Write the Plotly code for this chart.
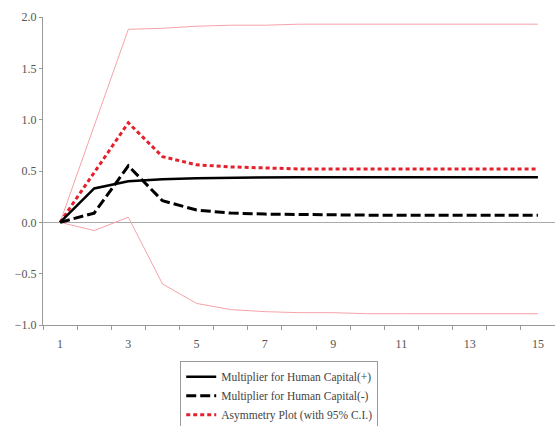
import plotly.graph_objects as go

periods = list(range(1, 16))
pos_mult = [0, 0.33, 0.40, 0.42, 0.43, 0.435, 0.44, 0.44, 0.44, 0.44, 0.44, 0.44, 0.44, 0.44, 0.44]
neg_mult = [0, 0.09, 0.55, 0.21, 0.12, 0.09, 0.08, 0.075, 0.07, 0.07, 0.07, 0.07, 0.07, 0.07, 0.07]
asym = [0, 0.48, 0.97, 0.64, 0.56, 0.54, 0.53, 0.52, 0.52, 0.52, 0.52, 0.52, 0.52, 0.52, 0.52]
upper_ci = [0, 0.94, 1.88, 1.89, 1.91, 1.92, 1.92, 1.93, 1.93, 1.93, 1.93, 1.93, 1.93, 1.93, 1.93]
lower_ci = [0, -0.08, 0.05, -0.60, -0.79, -0.85, -0.87, -0.88, -0.88, -0.89, -0.89, -0.89, -0.89, -0.89, -0.89]
x_labels = [1, 3, 5, 7, 9, 11, 13, 15]
y_ticks = [-1.0, -0.5, 0.0, 0.5, 1.0, 1.5, 2.0]

serif = "Liberation Serif, Times New Roman, Times, serif"

fig = go.Figure()
fig.add_trace(go.Scatter(x=periods, y=upper_ci, mode="lines", showlegend=False,
                         line=dict(color="#f5a3aa", width=1)))
fig.add_trace(go.Scatter(x=periods, y=lower_ci, mode="lines", showlegend=False,
                         line=dict(color="#f5a3aa", width=1)))
fig.add_trace(go.Scatter(x=periods, y=asym, mode="lines", name="Asymmetry Plot (with 95% C.I.)",
                         line=dict(color="#e3202c", width=3, dash="4px,3px")))
fig.add_trace(go.Scatter(x=periods, y=neg_mult, mode="lines", name="Multiplier for Human Capital(-)",
                         line=dict(color="black", width=3, dash="10px,4px")))
fig.add_trace(go.Scatter(x=periods, y=pos_mult, mode="lines", name="Multiplier for Human Capital(+)",
                         line=dict(color="black", width=2.5)))

fig.update_layout(
    width=555, height=426,
    margin=dict(l=43, r=0, t=17, b=101, autoexpand=False),
    paper_bgcolor="white", plot_bgcolor="white",
    font=dict(family=serif, size=12, color="#555"),
    legend=dict(x=0.268, y=-0.118, xanchor="left", yanchor="top",
                bordercolor="#999", borderwidth=1, traceorder="reversed",
                font=dict(family=serif, size=11.5, color="#444"), tracegroupgap=0),
    xaxis=dict(range=[0.5, 15.5], tickvals=x_labels, ticks="", showgrid=False,
               showline=True, linecolor="#999", linewidth=1, zeroline=False,
               tickfont=dict(family=serif, size=12, color="#555"), ticklabelstandoff=8,
               automargin=False,
               minor=dict(tick0=0.5, dtick=1, ticks="outside", ticklen=4, tickcolor="#999", showgrid=False)),
    yaxis=dict(range=[-1.0, 2.0], tickvals=y_ticks, tickformat=".1f", ticks="outside", ticklen=3,
               tickcolor="#999", showgrid=False, showline=True, linecolor="#999", linewidth=1,
               zeroline=True, zerolinecolor="#aaa", zerolinewidth=1, automargin=False,
               tickfont=dict(family=serif, size=12, color="#555")),
)

fig.write_html("out.html")
